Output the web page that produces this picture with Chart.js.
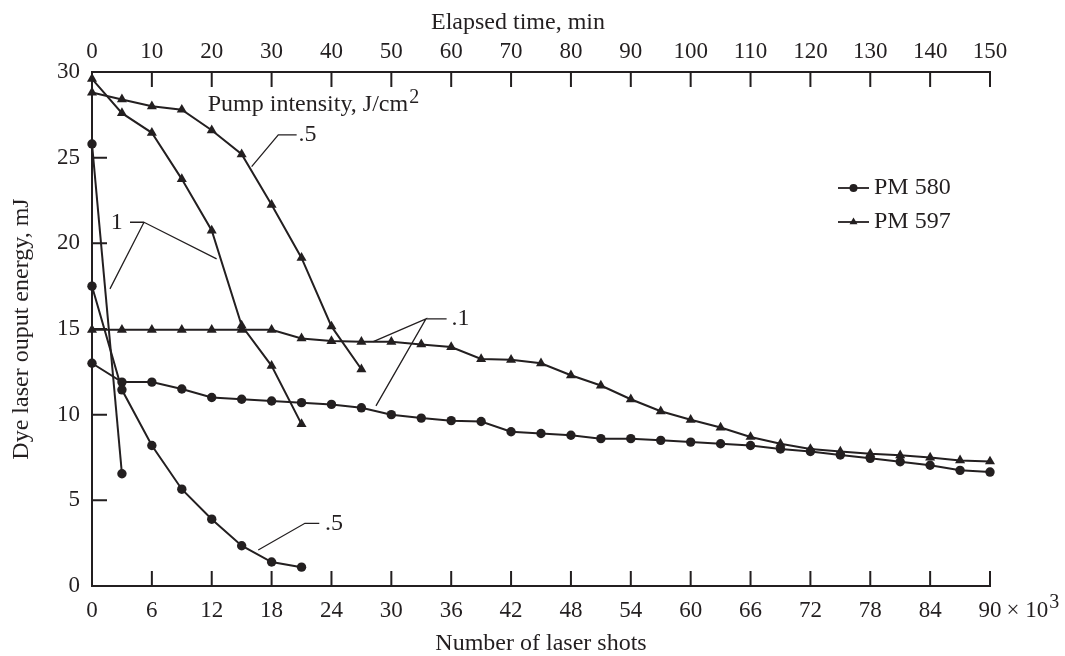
<!DOCTYPE html>
<html>
<head>
<meta charset="utf-8">
<title>Dye laser output energy</title>
<script src="https://cdn.jsdelivr.net/npm/chart.js@4.4.1/dist/chart.umd.min.js"></script>
<style>
  html, body { margin: 0; padding: 0; background: #fff; }
  #wrap { width: 1065px; height: 656px; }
</style>
</head>
<body>
<div id="wrap"><canvas id="chart"></canvas></div>
<script>
  "use strict";

  // laser shots, x 10^3 (one reading every 3000 shots = 5 min)
  const shots = [0, 3, 6, 9, 12, 15, 18, 21, 24, 27, 30, 33, 36, 39, 42, 45,
    48, 51, 54, 57, 60, 63, 66, 69, 72, 75, 78, 81, 84, 87, 90];

  // PM 580 (circles), output energy in mJ
  const pm580At1 = [25.8, 6.55];
  const pm580At05 = [17.5, 11.45, 8.2, 5.65, 3.9, 2.35, 1.4, 1.1];
  const pm580At01 = [13.0, 11.9, 11.9, 11.5, 11.0, 10.9, 10.8, 10.7, 10.6, 10.4,
    10.0, 9.8, 9.65, 9.6, 9.0, 8.9, 8.8, 8.6, 8.6, 8.5, 8.4, 8.3, 8.2, 8.0,
    7.85, 7.65, 7.45, 7.25, 7.05, 6.75, 6.65];

  // PM 597 (triangles), output energy in mJ
  const pm597At1 = [29.6, 27.6, 26.45, 23.75, 20.75, 15.2, 12.85, 9.45];
  const pm597At05 = [28.8, 28.4, 28.0, 27.8, 26.6, 25.2, 22.25, 19.15, 15.15, 12.65];
  const pm597At01 = [14.95, 14.95, 14.95, 14.95, 14.95, 14.95, 14.95, 14.45, 14.3, 14.25,
    14.25, 14.1, 13.95, 13.25, 13.2, 13.0, 12.3, 11.7, 10.9, 10.2, 9.7, 9.25,
    8.7, 8.3, 8.0, 7.85, 7.72, 7.63, 7.5, 7.33, 7.27];

  const shotTicks = { min: 0, max: 90, step: 6 };
  const timeTicks = { min: 0, max: 150, step: 10 };
  const energyTicks = { min: 0, max: 30, step: 5 };

  // pump intensity call-outs (data coordinates: shots x10^3, mJ)
  const calloutLabels = [
    { text: ".5", x: 20.7, y: 26.33, align: "left" },
    { text: "1", x: 2.47, y: 21.2, align: "center" },
    { text: ".1", x: 36.04, y: 15.6, align: "left" },
    { text: ".5", x: 23.35, y: 3.66, align: "left" },
  ];
  const calloutLines = [
    [[16.0, 24.48], [18.67, 26.33], [20.51, 26.33]],
    [[1.8, 17.34], [5.21, 21.23], [12.49, 19.09]],
    [[3.81, 21.23], [5.21, 21.23]],
    [[28.19, 14.26], [33.47, 15.59], [28.46, 10.51]],
    [[33.47, 15.59], [35.54, 15.59]],
    [[16.66, 2.1], [21.34, 3.66], [22.78, 3.66]],
  ];
  const pumpNote = { text: "Pump intensity, J/cm", sup: "2", x: 11.6, y: 28.1 };

  const legendItems = [
    { label: "PM 580", style: "circle" },
    { label: "PM 597", style: "triangle" },
  ];

  const INK = "#231f20";
  const FONT = "'Liberation Serif', 'Times New Roman', serif";
  const TICK_LEN = 15;

  function series(values, style) {
    const tri = style === "triangle";
    return {
      data: values.map((v, i) => ({ x: shots[i], y: v })),
      borderColor: INK,
      backgroundColor: INK,
      borderWidth: 2,
      pointStyle: style,
      pointRadius: tri ? 5.8 : 4.7,
      pointBackgroundColor: INK,
      pointBorderColor: INK,
      pointBorderWidth: 0,
      tension: 0,
      fill: false,
      clip: false,
    };
  }

  function drawMarker(ctx, style, x, y, r) {
    ctx.beginPath();
    if (style === "circle") {
      ctx.arc(x, y, r, 0, Math.PI * 2);
    } else {
      ctx.moveTo(x, y - r);
      ctx.lineTo(x + r * 0.866, y + r * 0.5);
      ctx.lineTo(x - r * 0.866, y + r * 0.5);
      ctx.closePath();
    }
    ctx.fill();
  }

  const overlayPlugin = {
    id: "overlay",
    afterDraw(chart) {
      const { ctx, chartArea: area, scales } = chart;
      const sx = scales.x, st = scales.xTop, sy = scales.y;
      const px = (v) => sx.getPixelForValue(v);
      const py = (v) => sy.getPixelForValue(v);
      ctx.save();

      // inward tick marks
      ctx.strokeStyle = INK;
      ctx.lineWidth = 2;
      ctx.beginPath();
      sx.ticks.forEach((t) => {
        const p = sx.getPixelForValue(t.value);
        ctx.moveTo(p, area.bottom);
        ctx.lineTo(p, area.bottom - TICK_LEN);
      });
      st.ticks.forEach((t) => {
        const p = st.getPixelForValue(t.value);
        ctx.moveTo(p, area.top);
        ctx.lineTo(p, area.top + TICK_LEN);
      });
      sy.ticks.forEach((t) => {
        const p = sy.getPixelForValue(t.value);
        ctx.moveTo(area.left, p);
        ctx.lineTo(area.left + TICK_LEN, p);
      });
      ctx.stroke();

      // "x 10^3" after the last shot label
      ctx.fillStyle = INK;
      ctx.textBaseline = "middle";
      ctx.font = "23px " + FONT;
      const lastX = px(shotTicks.max);
      const labelY = area.bottom + 25;
      const half = ctx.measureText(String(shotTicks.max)).width / 2;
      ctx.textAlign = "left";
      const mult = "\u00d7 10";
      ctx.fillText(mult, lastX + half + 5, labelY);
      const mw = ctx.measureText(mult).width;
      ctx.font = "20px " + FONT;
      ctx.fillText("3", lastX + half + 6 + mw, labelY - 8);

      // top axis title
      ctx.font = "24px " + FONT;
      ctx.textAlign = "center";
      ctx.fillText("Elapsed time, min", (area.left + area.right) / 2 - 23, area.top - 49);

      // call-out leaders
      ctx.lineWidth = 1.3;
      ctx.beginPath();
      calloutLines.forEach((pts) => {
        pts.forEach(([x, y], i) => {
          if (i === 0) ctx.moveTo(px(x), py(y));
          else ctx.lineTo(px(x), py(y));
        });
      });
      ctx.stroke();
      ctx.font = "24px " + FONT;
      calloutLabels.forEach((c) => {
        ctx.textAlign = c.align;
        ctx.fillText(c.text, px(c.x), py(c.y));
      });

      // pump intensity note with superscript
      ctx.textAlign = "left";
      ctx.fillText(pumpNote.text, px(pumpNote.x), py(pumpNote.y));
      const nw = ctx.measureText(pumpNote.text).width;
      ctx.font = "20px " + FONT;
      ctx.fillText(pumpNote.sup, px(pumpNote.x) + nw + 1, py(pumpNote.y) - 7);

      // legend
      ctx.font = "24px " + FONT;
      legendItems.forEach((item, i) => {
        const y = area.top + 116 + i * 34;
        const x0 = area.right - 152;
        ctx.lineWidth = 1.8;
        ctx.beginPath();
        ctx.moveTo(x0, y);
        ctx.lineTo(x0 + 31, y);
        ctx.stroke();
        drawMarker(ctx, item.style, x0 + 15.5, y, item.style === "circle" ? 4 : 4.6);
        ctx.textAlign = "left";
        ctx.fillText(item.label, x0 + 36, y);
      });

      ctx.restore();
    },
  };

  const tickFont = { family: FONT, size: 23 };

  new Chart(document.getElementById("chart"), {
    type: "line",
    data: {
      datasets: [
        series(pm580At1, "circle"),
        series(pm580At05, "circle"),
        series(pm580At01, "circle"),
        series(pm597At1, "triangle"),
        series(pm597At05, "triangle"),
        series(pm597At01, "triangle"),
      ],
    },
    options: {
      responsive: true,
      maintainAspectRatio: false,
      animation: false,
      events: [],
      layout: { padding: { left: 0, top: 0, right: 75, bottom: 0 } },
      plugins: { legend: { display: false }, tooltip: { enabled: false } },
      scales: {
        x: {
          type: "linear",
          position: "bottom",
          min: shotTicks.min,
          max: shotTicks.max,
          afterFit(s) { s.height = 70; },
          grid: { display: false, drawTicks: false },
          border: { display: true, color: INK, width: 2 },
          ticks: {
            stepSize: shotTicks.step,
            color: INK,
            font: tickFont,
            padding: 11,
            maxRotation: 0,
            autoSkip: false,
          },
          title: {
            display: true,
            text: "Number of laser shots",
            color: INK,
            font: { family: FONT, size: 24, lineHeight: 1 },
            padding: { top: 0, bottom: 0 },
          },
        },
        xTop: {
          type: "linear",
          axis: "x",
          position: "top",
          min: timeTicks.min,
          max: timeTicks.max,
          afterFit(s) { s.height = 72; },
          grid: { display: false, drawTicks: false },
          border: { display: true, color: INK, width: 2 },
          ticks: {
            stepSize: timeTicks.step,
            color: INK,
            font: tickFont,
            padding: 6,
            maxRotation: 0,
            autoSkip: false,
          },
        },
        y: {
          min: energyTicks.min,
          max: energyTicks.max,
          afterFit(s) { s.width = 92; },
          grid: { display: false, drawTicks: false },
          border: { display: true, color: INK, width: 2 },
          ticks: {
            stepSize: energyTicks.step,
            color: INK,
            font: tickFont,
            padding: 12,
          },
          title: {
            display: true,
            text: "Dye laser ouput energy, mJ",
            color: INK,
            font: { family: FONT, size: 24, lineHeight: 1 },
            padding: { top: 10, bottom: 0 },
          },
        },
      },
    },
    plugins: [overlayPlugin],
  });
</script>
</body>
</html>
